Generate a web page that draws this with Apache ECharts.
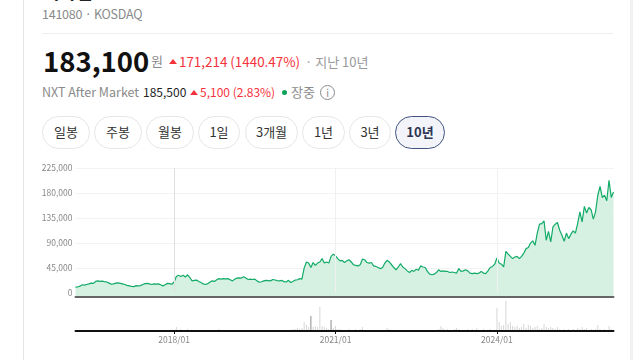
<!DOCTYPE html>
<html>
<head>
<meta charset="utf-8">
<style>
html, body { margin: 0; padding: 0; background: #fff; }
body { width: 640px; height: 360px; overflow: hidden; position: relative; font-family: "Noto Sans CJK KR", sans-serif; }
#chartBox { position: absolute; left: 0; top: 0; width: 640px; height: 360px; }
.t { position: absolute; white-space: nowrap; line-height: 1; }
.gray { color: #8a8a8a; }
.red { color: #f5323c; }
.tri { position: absolute; width: 0; height: 0; border-left: 4px solid transparent; border-right: 4px solid transparent; border-bottom: 5px solid #f5323c; }
.btn { position: absolute; top: 116px; height: 31px; line-height: 30px; text-align: center; border: 1px solid #e6e6e6; border-radius: 17px; font-size: 13px; color: #333; box-sizing: content-box; }
.btn.on { border-color: #41527f; background: #f2f4fa; font-weight: 700; color: #2b3553; }
</style>
</head>
<body>
<div style="position:absolute;left:23px;top:0;width:1px;height:360px;background:#e4e4e4"></div>
<div style="position:absolute;left:630px;top:0;width:3px;height:360px;background:#f1f1f1"></div>
<div style="position:absolute;left:42px;top:33px;width:571px;height:1px;background:#eee"></div>
<div class="t" style="left:43px;top:-18px;font-size:18px;font-weight:700;color:#222">리가켐</div>
<div class="t gray" style="left:42px;top:8px;font-size:12.5px;letter-spacing:-0.25px">141080 · KOSDAQ</div>
<div class="t" style="left:43px;top:47px;font-size:27.5px;font-weight:700;color:#111">183,100</div>
<div class="t gray" style="left:151px;top:54px;font-size:13px">원</div>
<div class="tri" style="left:169px;top:59px"></div>
<div class="t red" style="left:179px;top:55px;font-size:13.4px">171,214 (1440.47%)</div>
<div class="t" style="left:305px;top:55px;font-size:13px;color:#999">· 지난 10년</div>
<div class="t gray" style="left:42px;top:86px;font-size:12.5px">NXT After Market</div>
<div class="t" style="left:143px;top:86px;font-size:12px;color:#222">185,500</div>
<div class="tri" style="left:190px;top:90px"></div>
<div class="t red" style="left:200px;top:86px;font-size:12px">5,100 (2.83%)</div>
<div style="position:absolute;left:282px;top:90px;width:5px;height:5px;border-radius:50%;background:#0aa35a"></div>
<div class="t gray" style="left:291px;top:85px;font-size:13px">장중</div>
<div class="t gray" style="left:320px;top:85px;width:13px;height:13px;border:1px solid #8a8a8a;border-radius:50%;text-align:center;font-size:10px;line-height:13px">i</div>
<div class="btn" style="left:42px;width:46px">일봉</div>
<div class="btn" style="left:94px;width:46px">주봉</div>
<div class="btn" style="left:146px;width:46px">월봉</div>
<div class="btn" style="left:198px;width:40px">1일</div>
<div class="btn" style="left:245px;width:51px">3개월</div>
<div class="btn" style="left:302px;width:41px">1년</div>
<div class="btn" style="left:349px;width:40px">3년</div>
<div class="btn on" style="left:395px;width:48px">10년</div>
<div id="chartBox"></div>
<script src="https://cdn.jsdelivr.net/npm/echarts@6/dist/echarts.min.js"></script>
<script>
// 반월 간격 종가 (천원), 2016/03 ~ 2026/03
var prices = [
    10.8, 11, 12.5, 15, 14.5, 15.5, 16.5, 18, 17.5, 21, 22, 21, 21.5, 20.5, 20, 18, 16, 16.5, 18, 18.5,
    17.5, 16.5, 15.5, 14, 13, 12, 11.5, 13.5, 13, 13.5, 15.5, 17, 17.5, 16.5, 15.5, 16.5, 16, 16.5, 15, 13,
    15, 17.5, 17, 16, 20, 30, 32, 30, 32, 29, 33, 28, 22, 23, 23.5, 21, 19, 16.5, 15.5, 17,
    20, 22, 21, 24, 26, 25, 26, 25.5, 26, 24, 22, 25, 27, 27.5, 27, 29.5, 27, 24.5, 25, 24.5,
    25, 22, 19.5, 20.5, 22, 23, 22.5, 22, 24.5, 23.5, 22.5, 22, 23, 20.5, 20, 23, 19, 21, 23.5, 24,
    26, 25, 45, 56, 54, 46, 55, 50, 54, 56, 62, 54, 56, 54, 66, 70, 67, 62, 58, 59,
    55, 58, 60, 56, 51, 50, 49, 51, 61, 60, 55, 54, 55, 49, 48, 46, 44, 46, 54, 59,
    56, 51, 46, 42, 47, 53, 47, 44, 40, 37, 41, 39, 43, 41, 49, 47, 46, 39, 34, 33,
    34, 37, 42, 39, 40, 39, 39, 37, 38, 37, 36, 44, 39, 40, 42, 40, 36, 35, 36, 35,
    36, 39, 36, 35, 40, 46, 48, 52, 63, 54, 52, 47, 75, 70, 66, 62, 65, 66, 62, 66,
    72, 80, 82, 90, 94, 86, 108, 124, 125, 130, 95, 111, 92, 119, 124, 127, 113, 104, 93, 108,
    98, 106, 112, 108, 125, 146, 128, 156, 144, 154, 150, 133, 146, 176, 192, 172, 176, 166, 203, 172,
    182
];
// 거래량 (상대값)
var volumes = [
    0, 0, 0, 0, 0, 0, 0, 1, 0, 0, 1, 0, 0, 1, 0, 0, 0, 0, 0, 0,
    0, 0, 0, 0, 0, 0, 0, 0, 0, 0, 0, 0, 0, 0, 0, 0, 0, 0, 0, 0,
    0, 1, 0, 1, 1, 4, 1, 2, 1, 1, 2, 1, 0, 0, 1, 0, 0, 0, 0, 0,
    0, 0, 1, 1, 2, 1, 0, 0, 0, 0, 0, 0, 0, 0, 0, 0, 0, 0, 0, 0,
    0, 0, 0, 0, 0, 0, 0, 0, 0, 0, 0, 0, 0, 0, 1, 1, 1, 2, 2, 3,
    2, 3, 9, 6, 4, 15, 4, 5, 4, 24, 5, 4, 3, 2, 11, 3, 5, 2, 2, 1,
    1, 1, 2, 1, 1, 2, 1, 2, 4, 1, 1, 1, 1, 1, 0, 1, 1, 1, 1, 3,
    2, 1, 1, 0, 1, 1, 0, 1, 1, 1, 1, 1, 0, 1, 1, 0, 1, 1, 1, 1,
    1, 1, 2, 5, 3, 1, 2, 1, 1, 2, 3, 2, 1, 1, 1, 2, 1, 2, 1, 3,
    1, 1, 2, 1, 1, 2, 1, 1, 23, 9, 5, 6, 30, 7, 9, 5, 4, 5, 3, 4,
    7, 3, 6, 5, 3, 4, 5, 2, 3, 7, 4, 3, 4, 3, 2, 4, 2, 1, 2, 1,
    2, 1, 2, 1, 3, 2, 4, 2, 3, 1, 2, 1, 2, 6, 2, 1, 2, 1, 5, 2,
    1
];
var darkBars = [105, 114];
var yTicks = [0, 45000, 90000, 135000, 180000, 225000];
var tickLabels = ['2018/01', '2021/01', '2024/01'];
var tickLineColors = ['#e0e0e0', '#f0f0f0', '#f0f0f0'];

var categories = [];
for (var i = 0; i < prices.length; i++) {
    var m = 2 + Math.floor(i / 2);
    var yy = 2016 + Math.floor(m / 12);
    var mm = m % 12 + 1;
    categories.push(yy + '/' + (mm < 10 ? '0' + mm : mm) + (i % 2 ? '/15' : '/01'));
}

function isYearTick(index, value) {
    return tickLabels.indexOf(value.slice(0, 7)) >= 0 && value.slice(8) === '01';
}

function StockChart() {
    var myChart = echarts.init(document.getElementById('chartBox'), null, {renderer: 'canvas'});
    var font = '"Noto Sans CJK KR", sans-serif';
    var option = {
        animation: false,
        grid: [
            {left: 75.5, width: 538, top: 168, height: 129},
            {left: 75.5, width: 538, top: 301, height: 30}
        ],
        xAxis: [
            {
                type: 'category', gridIndex: 0, data: categories, boundaryGap: false, z: 5,
                axisLine: {onZero: false, lineStyle: {color: '#666', width: 2}},
                axisTick: {show: false}, axisLabel: {show: false}, splitLine: {show: false}
            },
            {
                type: 'category', gridIndex: 1, data: categories, boundaryGap: false, z: 5,
                axisLine: {lineStyle: {color: '#111', width: 2}},
                axisTick: {interval: isYearTick, length: 3, lineStyle: {color: '#111'}},
                axisLabel: {
                    interval: isYearTick, color: '#888', fontSize: 8.5, fontFamily: font, margin: 5,
                    formatter: function (v) { return v.slice(0, 7); }
                }
            }
        ],
        yAxis: [
            {
                type: 'value', gridIndex: 0, min: -7000, max: 225000,
                axisLine: {show: false},
                axisTick: {show: false, customValues: yTicks},
                axisLabel: {
                    customValues: yTicks, color: '#888', fontSize: 8.5, fontFamily: font, margin: 3,
                    formatter: function (v) { return v.toLocaleString('en-US'); }
                },
                splitLine: {show: true, lineStyle: {color: '#f3f3f3', width: 1}}
            },
            {type: 'value', gridIndex: 1, min: 0, max: 30, show: false}
        ],
        series: [
            {
                type: 'line', xAxisIndex: 0, yAxisIndex: 0, symbol: 'none',
                data: prices.map(function (p) { return p * 1000; }),
                lineStyle: {color: '#12ab68', width: 1.2},
                areaStyle: {color: '#d6f0e2', origin: 'start', opacity: 1},
                markLine: {
                    silent: true, symbol: 'none', label: {show: false},
                    data: tickLabels.map(function (t, n) {
                        return [
                            {xAxis: t + '/01', yAxis: 0, lineStyle: {color: tickLineColors[n], width: 1, type: 'solid'}},
                            {xAxis: t + '/01', yAxis: 225000}
                        ];
                    })
                }
            },
            {
                type: 'bar', xAxisIndex: 1, yAxisIndex: 1, barWidth: 1,
                data: volumes.map(function (v, n) {
                    return {value: v, itemStyle: {color: darkBars.indexOf(n) >= 0 ? '#8c8c8c' : '#d6d6d6'}};
                })
            }
        ]
    };
    myChart.setOption(option);
}

StockChart();
</script>
</body>
</html>
